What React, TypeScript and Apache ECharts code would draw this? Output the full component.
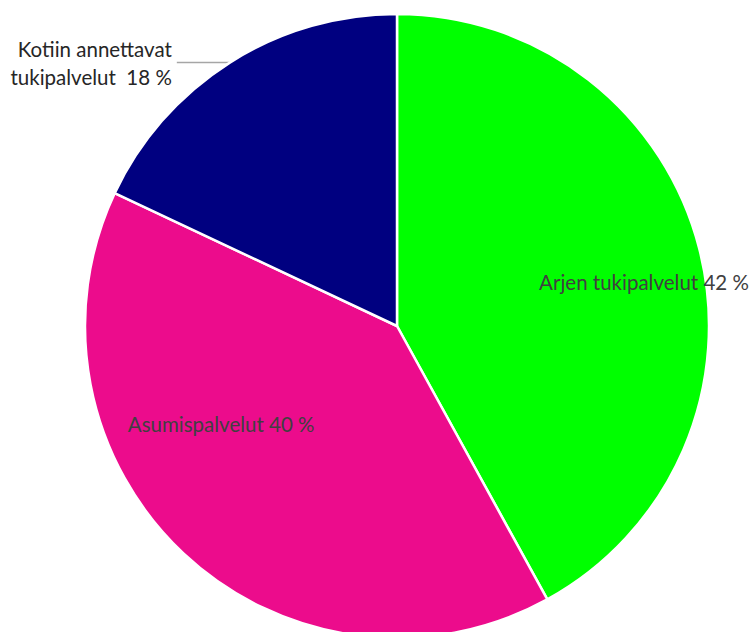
import React, { useEffect, useRef } from "react";
import * as echarts from "echarts";

const categories = ["Arjen tukipalvelut", "Asumispalvelut", "Kotiin annettavat\ntukipalvelut "];
const values = [42, 40, 18];
const colors = ["#00FF00", "#EC0C8C", "#000080"];

export default function App() {
  const ref = useRef<HTMLDivElement>(null);
  useEffect(() => {
    const chart = echarts.init(ref.current!, undefined, { renderer: "svg" });
    const labelOffsets: [number, number][] = [[93, -4], [-67, -18]];
    const data = categories.map((name, i) => {
      const item: any = { name, value: values[i], itemStyle: { color: colors[i] } };
      if (i < 2) {
        item.label = { position: "inside", offset: labelOffsets[i] };
        item.labelLine = { show: false };
      } else {
        item.label = { position: "outside", color: "#262626" };
        item.labelLine = { show: true, length: 0, length2: 53, lineStyle: { color: "#a6a6a6", width: 1.5 } };
      }
      return item;
    });
    chart.setOption({
      animation: false,
      backgroundColor: "#ffffff",
      series: [
        {
          type: "pie",
          center: [397, 326],
          radius: 312,
          startAngle: 90,
          clockwise: true,
          avoidLabelOverlap: false,
          itemStyle: { borderColor: "#ffffff", borderWidth: 2.5 },
          label: {
            show: true,
            formatter: (p: any) => `${p.name} ${p.value} %`,
            color: "#404040",
            fontFamily: "Lato",
            fontSize: 20.5,
            lineHeight: 28,
          },
          emphasis: { disabled: true },
          data,
        },
      ],
    });
    return () => chart.dispose();
  }, []);
  return <div ref={ref} style={{ position: "fixed", left: 0, top: 0, width: 750, height: 632 }} />;
}
